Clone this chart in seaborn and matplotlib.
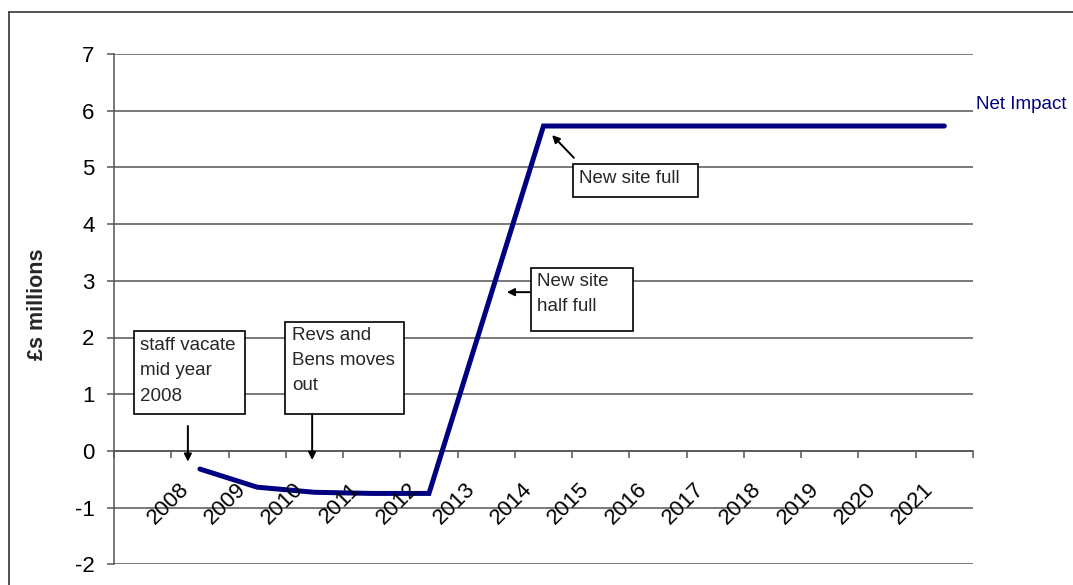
import matplotlib
matplotlib.use("Agg")
import matplotlib.pyplot as plt
from matplotlib.patches import Rectangle
from matplotlib.lines import Line2D
import seaborn as sns
import pandas as pd
import numpy as np

# Net impact of the relocation, £ millions per year
years = [2008, 2009, 2010, 2011, 2012, 2013, 2014,
         2015, 2016, 2017, 2018, 2019, 2020, 2021]
net_impact = [-0.32, -0.64, -0.73, -0.75, -0.75, 2.49, 5.73,
              5.73, 5.73, 5.73, 5.73, 5.73, 5.73, 5.73]
series_name = "Net Impact"
y_ticks = [-2, -1, 0, 1, 2, 3, 4, 5, 6, 7]
y_label = "£s millions"

# Call-out notes: (text, box x0, box x1, box y0, box y1, text x, text y,
#                  arrow tail (x, y), arrow head (x, y))
notes = [
    ("staff vacate\nmid year\n2008", 2006.85, 2008.79, 0.65, 2.12, 2006.95, 1.41,
     (2007.79, 0.44), (2007.79, -0.19)),
    ("Revs and\nBens moves\nout", 2009.49, 2011.56, 0.65, 2.28, 2009.61, 1.59,
     (2009.96, 0.65), (2009.96, -0.16)),
    ("New site\nhalf full", 2013.78, 2015.56, 2.12, 3.23, 2013.89, 2.77,
     (2013.76, 2.80), (2013.36, 2.80)),
    ("New site full", 2014.51, 2016.70, 4.48, 5.06, 2014.62, 4.80,
     (2014.53, 5.17), (2014.15, 5.57)),
]

sns.set_style("white")
plt.rcParams["font.family"] = ["Liberation Sans", "DejaVu Sans"]

NAVY = "#000080"
GRID = "#555555"

fig = plt.figure(figsize=(10.73, 5.85), dpi=100)
ax = fig.add_axes([114 / 1073, 1 - 564.3 / 585, 859 / 1073, 510.3 / 585])

df = pd.DataFrame({"year": years, "value": net_impact})
sns.lineplot(data=df, x="year", y="value", ax=ax, color=NAVY, linewidth=3.6,
             solid_capstyle="round", solid_joinstyle="miter", zorder=3)

ax.set_xlim(years[0] - 1.5, years[-1] + 0.5)
ax.set_ylim(y_ticks[0], y_ticks[-1])

# horizontal gridlines at every unit
ax.set_yticks(y_ticks)
ax.set_yticklabels([str(t) for t in y_ticks], fontsize=16)
ax.yaxis.grid(True, color=GRID, linewidth=1.1)
ax.xaxis.grid(False)

# category axis crossing at zero, ticks between categories
ax.spines["top"].set_visible(False)
ax.spines["right"].set_visible(False)
ax.spines["bottom"].set_position(("data", 0))
ax.spines["bottom"].set_color(GRID)
ax.spines["bottom"].set_linewidth(1.1)
ax.spines["left"].set_color(GRID)
ax.spines["left"].set_linewidth(1.1)
boundaries = np.arange(years[0] - 1.5, years[-1] + 0.51, 1.0)
ax.set_xticks(boundaries)
ax.set_xticklabels([])
ax.tick_params(axis="x", direction="out", length=5, width=1.1, color=GRID, bottom=True)
ax.tick_params(axis="y", direction="out", length=5, width=1.1, color=GRID, left=True,
               pad=9, labelcolor="black")
ax.set_xlabel("")

for yr in years:
    ax.text(yr - 0.25, -0.62, str(yr), rotation=45, rotation_mode="anchor",
            ha="right", va="center", fontsize=16, color="black")

ax.set_ylabel(y_label, fontsize=15.5, fontweight="bold")
ax.yaxis.set_label_coords(-0.077, 0.51)

# series label at the right end
ax.text(years[-1] + 0.55, 6.11, series_name, color=NAVY, fontsize=13.5,
        ha="left", va="center", clip_on=False)

# annotation boxes with arrows
for text, x0, x1, y0, y1, tx, ty, tail, head in notes:
    ax.add_patch(Rectangle((x0, y0), x1 - x0, y1 - y0, facecolor="white",
                           edgecolor="black", linewidth=1.2, zorder=4))
    ax.text(tx, ty, text, ha="left", va="center", fontsize=13.5,
            linespacing=1.62, zorder=5)
    ax.annotate("", xy=head, xytext=tail,
                arrowprops=dict(arrowstyle="-|>", color="black", lw=1.4,
                                mutation_scale=11, shrinkA=0, shrinkB=0),
                zorder=5)

# outer chart frame
fx0, fy1 = 9 / 1073, 1 - 12 / 585
fig.add_artist(Line2D([fx0, 1.0], [fy1, fy1], transform=fig.transFigure,
                      color="#333333", linewidth=1.2))
fig.add_artist(Line2D([fx0, fx0], [0.0, fy1], transform=fig.transFigure,
                      color="#333333", linewidth=1.2))

fig.savefig("out.png", dpi=100)
